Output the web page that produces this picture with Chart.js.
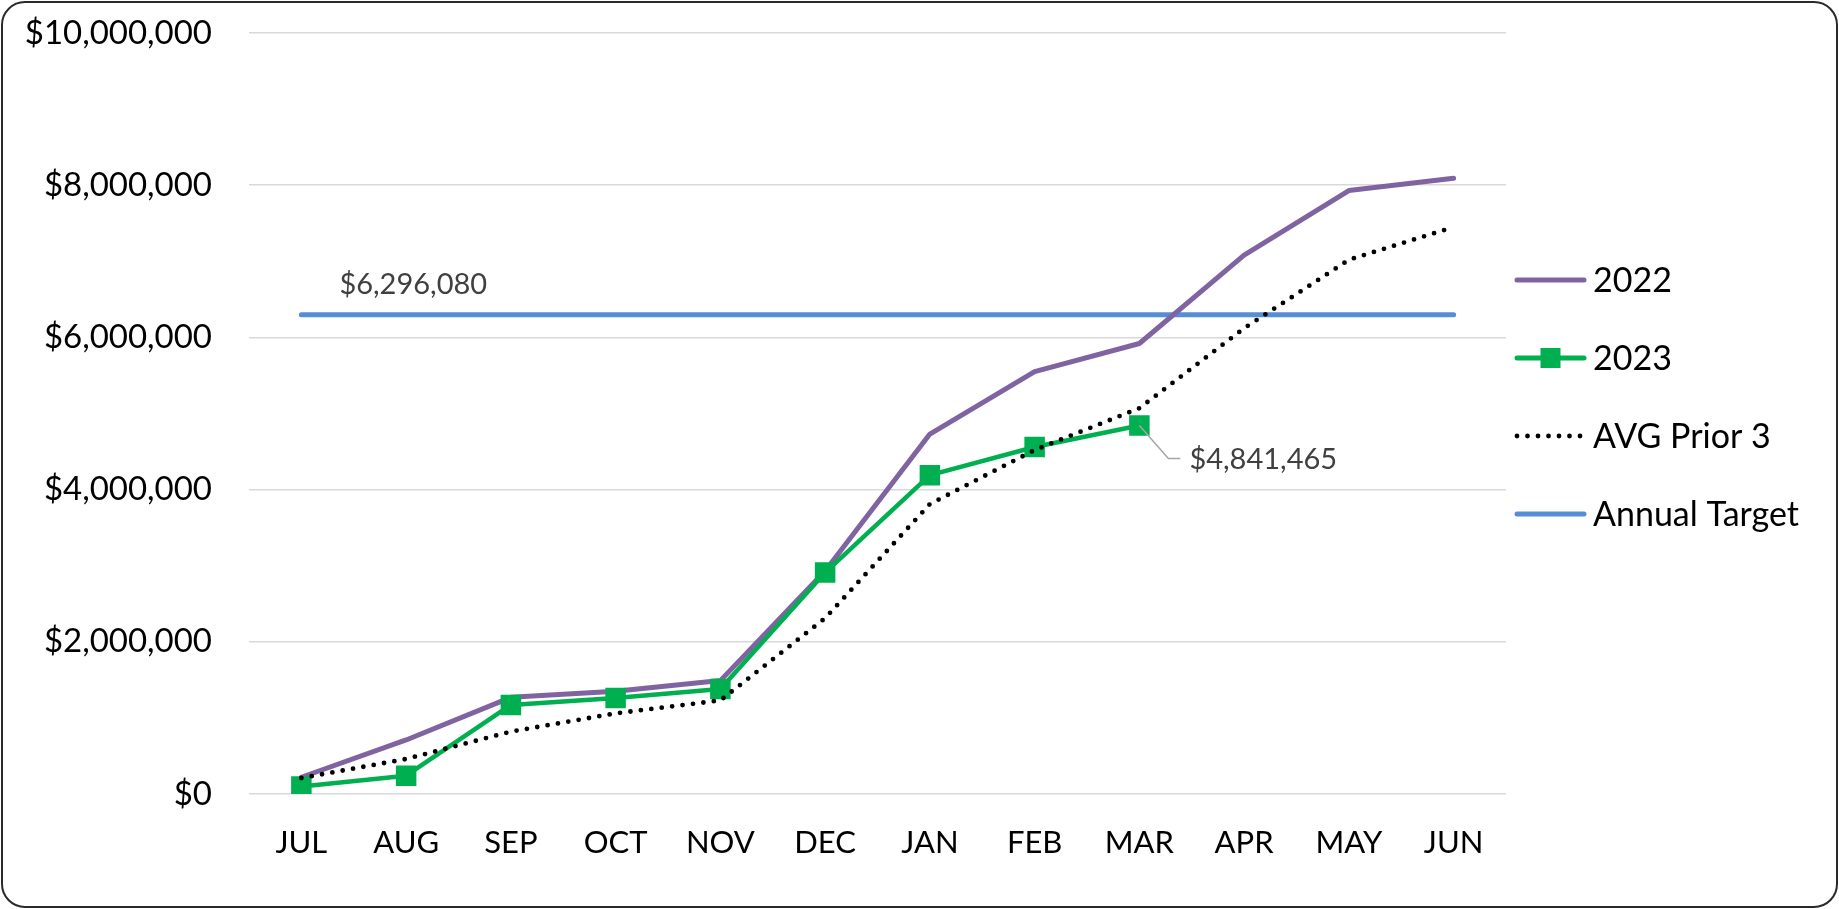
<!DOCTYPE html>
<html>
<head>
<meta charset="utf-8">
<script src="https://cdn.jsdelivr.net/npm/chart.js@4.4.1/dist/chart.umd.min.js"></script>
<style>
  html, body { margin: 0; padding: 0; background: #ffffff; }
  #wrap { position: relative; width: 1839px; height: 909px; background: #fff; overflow: hidden; }
  #c { position: absolute; left: 0; top: 0; }
  #frame { position: absolute; left: 1px; top: 1px; right: 1px; bottom: 1px;
           border: 2px solid #2a2a2a; border-radius: 24px; pointer-events: none; }
</style>
</head>
<body>
<div id="wrap">
  <canvas id="c" width="1839" height="909"></canvas>
  <div id="frame"></div>
</div>
<script>
// ---- data ----
const months = ['JUL','AUG','SEP','OCT','NOV','DEC','JAN','FEB','MAR','APR','MAY','JUN'];
const series2022 = [220000, 710000, 1270000, 1350000, 1490000, 2930000, 4730000, 5550000, 5920000, 7080000, 7930000, 8090000];
const series2023 = [100000, 240000, 1170000, 1260000, 1380000, 2910000, 4190000, 4560000, 4841465, null, null, null];
const avgPrior3 = [210000, 460000, 820000, 1060000, 1230000, 2310000, 3810000, 4520000, 5070000, 6120000, 7020000, 7450000];
const annualTarget = [6296080, 6296080, 6296080, 6296080, 6296080, 6296080, 6296080, 6296080, 6296080, 6296080, 6296080, 6296080];
const yTickValues = [0, 2000000, 4000000, 6000000, 8000000, 10000000];
const yTickLabels = ['$0', '$2,000,000', '$4,000,000', '$6,000,000', '$8,000,000', '$10,000,000'];
const targetLabel = '$6,296,080';
const lastLabel = '$4,841,465';
const legendLabels = ['2022', '2023', 'AVG Prior 3', 'Annual Target'];

// ---- style ----
const FONT = 'Lato, "Open Sans", "Noto Sans", sans-serif';
const C2022 = '#8064A2', C2023 = '#00B050', CAVG = '#000000', CTARGET = '#558ED5';

const overlay = {
  id: 'overlay',
  afterDraw(chart) {
    const ctx = chart.ctx;
    const tMeta = chart.getDatasetMeta(3);
    const p0 = tMeta.data[0];
    ctx.save();
    ctx.font = '29px ' + FONT;
    ctx.fillStyle = '#404040';
    ctx.textBaseline = 'middle';
    ctx.textAlign = 'left';
    ctx.fillText(targetLabel, p0.x + 38, p0.y - 30);

    const gMeta = chart.getDatasetMeta(1);
    const pm = gMeta.data[8];
    ctx.strokeStyle = '#a6a6a6';
    ctx.lineWidth = 1.5;
    ctx.beginPath();
    ctx.moveTo(pm.x, pm.y);
    ctx.lineTo(pm.x + 29, pm.y + 33);
    ctx.lineTo(pm.x + 41, pm.y + 33);
    ctx.stroke();
    ctx.fillText(lastLabel, pm.x + 50, pm.y + 34);

    const lx = 1515, len = 71, tx = 1593, y0 = 280, dy = 78;
    ctx.font = '34px ' + FONT;
    ctx.fillStyle = '#000';
    legendLabels.forEach((lab, i) => {
      const y = y0 + i * dy;
      ctx.save();
      ctx.lineCap = 'round';
      if (i === 0) { ctx.strokeStyle = C2022; ctx.lineWidth = 5; }
      if (i === 1) { ctx.strokeStyle = C2023; ctx.lineWidth = 5; }
      if (i === 2) { ctx.strokeStyle = CAVG; ctx.lineWidth = 4.8; ctx.setLineDash([0, 10.5]); }
      if (i === 3) { ctx.strokeStyle = CTARGET; ctx.lineWidth = 5; }
      ctx.beginPath();
      ctx.moveTo(lx + 2, y);
      ctx.lineTo(lx + len - 2, y);
      ctx.stroke();
      if (i === 1) {
        ctx.fillStyle = C2023;
        ctx.fillRect(lx + len / 2 - 10, y - 10, 20, 20);
      }
      ctx.restore();
      ctx.fillText(lab, tx, y + 1);
    });
    ctx.restore();
  }
};

new Chart(document.getElementById('c'), {
  type: 'line',
  data: {
    labels: months,
    datasets: [
      { label: legendLabels[0], data: series2022, borderColor: C2022, borderWidth: 5,
        pointRadius: 0, tension: 0, order: 3, borderCapStyle: 'round', borderJoinStyle: 'round' },
      { label: legendLabels[1], data: series2023, borderColor: C2023, borderWidth: 4.5,
        pointStyle: 'rect', pointRadius: 14.5, pointBackgroundColor: C2023, pointBorderColor: C2023,
        pointBorderWidth: 0, tension: 0, order: 2, borderJoinStyle: 'round', spanGaps: false },
      { label: legendLabels[2], data: avgPrior3, borderColor: CAVG, borderWidth: 4.8,
        borderDash: [0, 10.5], borderCapStyle: 'round', pointRadius: 0, tension: 0, order: 1 },
      { label: legendLabels[3], data: annualTarget, borderColor: CTARGET, borderWidth: 5,
        borderCapStyle: 'round', pointRadius: 0, tension: 0, order: 4 }
    ]
  },
  options: {
    responsive: false,
    animation: false,
    events: [],
    layout: { autoPadding: false, padding: { left: 0, top: 33, right: 333, bottom: 0 } },
    plugins: { legend: { display: false }, tooltip: { enabled: false } },
    scales: {
      x: {
        offset: true,
        grid: { display: false, drawTicks: false },
        border: { display: false },
        ticks: { color: '#000', font: { family: FONT, size: 31 }, padding: 30, maxRotation: 0, autoSkip: false },
        afterFit(s) { s.height = 115; s.paddingTop = 0; s.paddingBottom = 0; }
      },
      y: {
        min: 0, max: 10000000,
        afterBuildTicks(s) { s.ticks = yTickValues.map(v => ({ value: v })); },
        grid: { color: '#d9d9d9', lineWidth: 1.5, drawTicks: false },
        border: { display: false },
        ticks: { color: '#000', font: { family: FONT, size: 33 }, padding: 37,
                 callback: (v, i) => yTickLabels[i] },
        afterFit(s) { s.width = 249; s.paddingTop = 0; s.paddingBottom = 0; }
      }
    }
  },
  plugins: [overlay]
});
</script>
</body>
</html>
